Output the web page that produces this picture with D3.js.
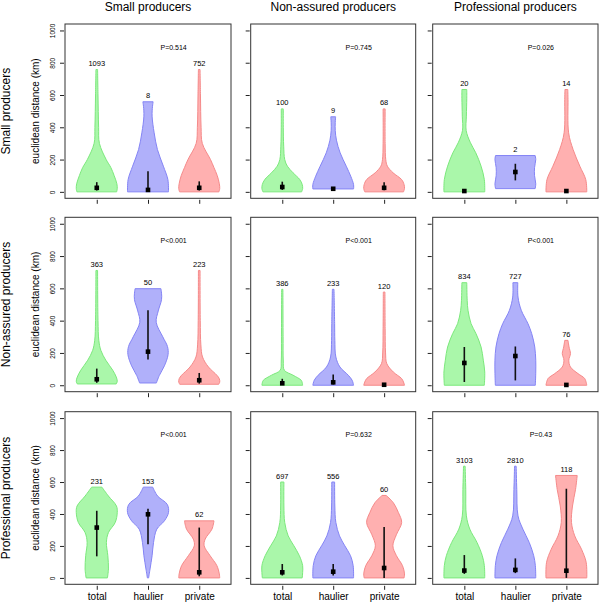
<!DOCTYPE html>
<html><head><meta charset="utf-8">
<script src="https://cdn.jsdelivr.net/npm/d3@7"></script>
<style>
body{margin:0;background:#fff;}
text{font-family:"Liberation Sans",Arial,Helvetica,sans-serif;fill:#000;}
</style>
</head><body>
<svg id="chart" width="600" height="604"></svg>
<script>
// ---------------- data ----------------
const producerTypes = ["Small producers", "Non-assured producers", "Professional producers"];
const groups = ["total", "haulier", "private"];
const yTicks = [0, 200, 400, 600, 800, 1000];
const yLabel = "euclidean distance (km)";

// [row][col]
const pLabels = [
  ["P=0.514", "P=0.745", "P=0.026"],
  ["P<0.001", "P<0.001", "P<0.001"],
  ["P<0.001", "P=0.632", "P=0.43"]
];
// [row][col][group]
const counts = [
  [[1093, 8, 752], [100, 9, 68], [20, 2, 14]],
  [[363, 50, 223], [386, 233, 120], [834, 727, 76]],
  [[231, 153, 62], [697, 556, 60], [3103, 2810, 118]]
];
const medians = [
  [[25, 12, 25], [30, 19, 25], [5, 123, 5]],
  [[37, 208, 31], [12, 18, 3], [138, 181, 2]],
  [[315, 398, 35], [35, 39, 62], [46, 50, 45]]
];
const q1s = [
  [[8, 0, 8], [12, 18, 10], [2, 71, 2]],
  [[15, 160, 10], [3, 5, 0], [20, 30, 0]],
  [[135, 210, 10], [15, 15, 0], [25, 30, 0]]
];
const q3s = [
  [[60, 128, 65], [63, 22, 60], [10, 174, 10]],
  [[103, 465, 76], [40, 66, 10], [237, 240, 5]],
  [[420, 432, 315], [87, 87, 319], [143, 122, 558]]
];
// violin outlines: [distance, relative half-width]
const profiles = [
  [ // row: Small producers
    [ // col: Small producers
      [[0,0.97],[20,1],[50,0.98],[100,0.85],[150,0.69],[200,0.46],[300,0.13],[400,0.09],[600,0.06],[758,0.04]],
      [[0,1],[76,0.97],[159,0.75],[262,0.46],[366,0.3],[469,0.2],[530,0.22],[558,0.25]],
      [[0,0.96],[20,1],[50,0.98],[100,0.88],[150,0.72],[200,0.55],[300,0.15],[400,0.09],[600,0.06],[758,0.04]]
    ],
    [ // col: Non-assured
      [[0,0.95],[20,1],[45,0.98],[76,0.86],[118,0.53],[159,0.25],[200,0.12],[283,0.07],[400,0.05],[514,0.05]],
      [[18,1],[45,1],[97,0.86],[159,0.64],[242,0.34],[320,0.16],[380,0.1],[430,0.1],[465,0.12]],
      [[0,0.95],[20,1],[45,0.98],[76,0.86],[118,0.44],[159,0.16],[200,0.08],[300,0.05],[514,0.05]]
    ],
    [ // col: Professional
      [[0,1],[76,0.98],[159,0.82],[242,0.56],[304,0.3],[380,0.09],[469,0.1],[580,0.12],[634,0.12]],
      [[20,0.97],[50,1],[100,0.94],[150,0.94],[200,1],[225,0.97]],
      [[0,1],[76,0.95],[159,0.66],[262,0.33],[366,0.11],[572,0.08],[634,0.07]]
    ]
  ],
  [ // row: Non-assured producers
    [
      [[8,0.95],[25,1],[51,0.95],[93,0.78],[155,0.44],[216,0.2],[278,0.1],[400,0.06],[711,0.04]],
      [[14,0.41],[60,0.55],[120,0.8],[190,0.98],[240,0.95],[300,0.72],[390,0.4],[460,0.5],[530,0.66],[570,0.66],[598,0.63]],
      [[6,0.95],[20,1],[40,0.98],[62,0.86],[113,0.45],[175,0.16],[250,0.08],[400,0.05],[711,0.04]]
    ],
    [
      [[0,1],[15,0.98],[31,0.93],[62,0.53],[93,0.1],[150,0.05],[300,0.04],[594,0.03]],
      [[0,1],[31,0.93],[62,0.74],[113,0.33],[175,0.13],[278,0.08],[383,0.07],[594,0.04]],
      [[0,1],[20,0.95],[41,0.86],[82,0.45],[134,0.13],[200,0.07],[350,0.05],[577,0.04]]
    ],
    [
      [[0,0.98],[82,1],[155,0.93],[237,0.82],[320,0.57],[381,0.33],[464,0.18],[526,0.14],[635,0.12]],
      [[0,0.98],[82,1],[155,1],[237,0.95],[320,0.8],[381,0.62],[464,0.29],[546,0.13],[635,0.12]],
      [[0,1],[41,0.9],[72,0.57],[113,0.2],[155,0.12],[196,0.2],[237,0.13],[278,0.08]]
    ]
  ],
  [ // row: Professional producers
    [
      [[0,0.52],[56,0.57],[139,0.54],[222,0.47],[284,0.57],[347,0.9],[409,1],[450,0.96],[512,0.57],[568,0.25]],
      [[0,0.03],[56,0.1],[139,0.2],[222,0.27],[305,0.43],[357,0.8],[409,1],[460,0.94],[512,0.47],[568,0.23]],
      [[0,1],[25,0.98],[77,0.86],[139,0.53],[201,0.24],[243,0.29],[305,0.62],[357,0.72]]
    ],
    [
      [[0,0.98],[35,1],[77,1],[139,0.84],[201,0.57],[263,0.29],[347,0.12],[450,0.08],[600,0.08]],
      [[0,1],[77,0.98],[139,0.85],[201,0.57],[263,0.31],[347,0.13],[450,0.08],[600,0.07]],
      [[0,0.98],[25,1],[77,0.9],[140,0.6],[201,0.43],[270,0.6],[347,0.86],[409,0.7],[471,0.45],[516,0.1]]
    ],
    [
      [[0,1],[77,0.98],[139,0.88],[222,0.62],[305,0.27],[388,0.1],[554,0.07],[699,0.04]],
      [[0,1],[77,0.98],[139,0.9],[222,0.68],[305,0.37],[388,0.13],[554,0.07],[699,0.04]],
      [[0,1],[98,0.97],[180,0.74],[263,0.41],[347,0.25],[450,0.3],[554,0.45],[641,0.53]]
    ]
  ]
];
const fillColors = ["#aaf7aa", "#b0b0fa", "#ffb0b0"];
const strokeColors = ["#7ce87c", "#8484f5", "#f58a8a"];

// ---------------- layout ----------------
const colLeft = [65, 250.7, 432.7], colRight = [231, 415.7, 598];
const rowTop = [24, 217.3, 411.7], rowBottom = [198.3, 391.7, 584.3];

const svg = d3.select("#chart");

// column titles
producerTypes.forEach((t, c) => {
  svg.append("text").attr("x", (colLeft[c] + colRight[c]) / 2).attr("y", 11.3)
    .attr("text-anchor", "middle").style("font-size", "12px").text(t);
});

for (let r = 0; r < 3; r++) {
  const y = d3.scaleLinear().domain([-40, 1040]).range([rowBottom[r], rowTop[r]]);
  const midY = (rowTop[r] + rowBottom[r]) / 2;
  // row title
  svg.append("text").attr("transform", `translate(10.3,${midY}) rotate(-90)`)
    .attr("text-anchor", "middle").style("font-size", "12px").text(producerTypes[r]);
  svg.append("text").attr("transform", `translate(38.5,${midY}) rotate(-90)`)
    .attr("text-anchor", "middle").style("font-size", "10px").text(yLabel);

  for (let c = 0; c < 3; c++) {
    const x = d3.scaleLinear().domain([0.38, 3.62]).range([colLeft[c], colRight[c]]);
    const g = svg.append("g");
    const hw = x(1.4) - x(1);

    // y axis
    const ya = g.append("g").attr("transform", `translate(${colLeft[c] - 1},0)`)
      .call(d3.axisLeft(y).tickValues(yTicks).tickFormat(d3.format("d")).tickSize(4).tickSizeOuter(0));
    ya.select(".domain").remove();
    ya.selectAll("line").attr("stroke", "#222");
    if (c === 0) {
      ya.selectAll("text").attr("transform", "rotate(-90)").attr("x", 0).attr("y", -9)
        .attr("dy", 0).attr("text-anchor", "middle").style("font-size", "6.5px");
    } else {
      ya.selectAll("text").remove();
    }
    // x axis
    const xa = g.append("g").attr("transform", `translate(0,${rowBottom[r] + 1.5})`)
      .call(d3.axisBottom(x).tickValues([1, 2, 3]).tickFormat((d, i) => groups[i]).tickSize(4).tickSizeOuter(0));
    xa.select(".domain").remove();
    xa.selectAll("line").attr("stroke", "#222");
    if (r === 2) {
      xa.selectAll("text").attr("y", 14.2).attr("dy", 0).style("font-size", "10px");
    } else {
      xa.selectAll("text").remove();
    }

    groups.forEach((grp, k) => {
      const cx = x(k + 1);
      const prof = profiles[r][c][k];
      const area = d3.area()
        .y(d => y(d[0]))
        .x0(d => cx - d[1] * hw)
        .x1(d => cx + d[1] * hw)
        .curve(d3.curveCatmullRom.alpha(0.5));
      g.append("path").attr("d", area(prof))
        .attr("fill", fillColors[k]).attr("stroke", strokeColors[k]).attr("stroke-width", 1);
      // IQR line
      g.append("line").attr("x1", cx).attr("x2", cx)
        .attr("y1", y(q1s[r][c][k])).attr("y2", y(q3s[r][c][k]))
        .attr("stroke", "#111").attr("stroke-width", 1.6);
      // median
      g.append("rect").attr("x", cx - 2.3).attr("y", y(medians[r][c][k]) - 2.3)
        .attr("width", 4.6).attr("height", 4.6).attr("fill", "#000");
      // count label
      const maxV = d3.max(prof, d => d[0]);
      g.append("text").attr("x", cx).attr("y", y(maxV) - 3.5)
        .attr("text-anchor", "middle").style("font-size", "7.5px").text(counts[r][c][k]);
    });
    // p value
    g.append("text").attr("x", x(2.5)).attr("y", y(895) + 2.5)
      .attr("text-anchor", "middle").style("font-size", "7px").text(pLabels[r][c]);
    // frame
    g.append("rect").attr("x", colLeft[c]).attr("y", rowTop[r])
      .attr("width", colRight[c] - colLeft[c]).attr("height", rowBottom[r] - rowTop[r])
      .attr("fill", "none").attr("stroke", "#333").attr("stroke-width", 1);
  }
}
</script>
</body></html>
